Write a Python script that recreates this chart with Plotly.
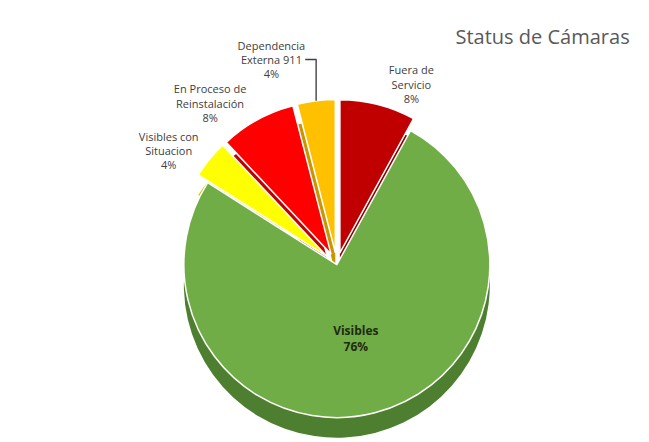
import plotly.graph_objects as go

categories = ["Fuera de Servicio", "Visibles", "Visibles con Situacion",
              "En Proceso de Reinstalación", "Dependencia Externa 911"]
label_text = ["Fuera de<br>Servicio", "<b>Visibles</b>", "Visibles con<br>Situacion",
              "En Proceso de<br>Reinstalación", "Dependencia<br>Externa 911"]
values = [8, 76, 4, 8, 4]
colors = ["#C00000", "#70AD47", "#FFFF00", "#FF0000", "#FFC000"]
side_colors = ["#8E0000", "#4E7F30", "#C8C800", "#C00000", "#C89600"]
pulls = [0.08, 0, 0.08, 0.08, 0.08]
positions = ["outside", "inside", "outside", "outside", "outside"]

pct = [f"{v}%" if i != 1 else f"<b>{v}%</b>" for i, v in enumerate(values)]
text = [f"{l}<br>{p}" for l, p in zip(label_text, pct)]

dom_x = [0.03, 0.81]

# darker "side" layer to hint at the 3D depth of the original
fig = go.Figure(go.Pie(
    labels=categories,
    values=values,
    textinfo="none",
    sort=False,
    direction="clockwise",
    rotation=0,
    pull=pulls,
    marker=dict(colors=side_colors, line=dict(color="white", width=0)),
    showlegend=False,
    hoverinfo="skip",
    domain=dict(x=dom_x, y=[0.0, 0.82]),
))

fig.add_trace(go.Pie(
    labels=categories,
    values=values,
    text=text,
    texttemplate="%{text}",
    textposition=positions,
    sort=False,
    direction="clockwise",
    rotation=0,
    pull=pulls,
    marker=dict(colors=colors, line=dict(color="white", width=1.5)),
    outsidetextfont=dict(family="Open Sans", size=11, color="#404040"),
    insidetextfont=dict(family="Open Sans", size=12, color="#1f2a10"),
    insidetextorientation="horizontal",
    showlegend=False,
    domain=dict(x=dom_x, y=[0.05, 0.87]),
))

fig.update_layout(
    width=649, height=442,
    margin=dict(l=0, r=0, t=0, b=0),
    paper_bgcolor="white",
    title=dict(text="Status de Cámaras", x=0.635, xanchor="left", xref="paper",
               y=0.935, yanchor="middle",
               font=dict(family="Open Sans", size=20, color="#595959")),
)

fig.write_html("out.html")
